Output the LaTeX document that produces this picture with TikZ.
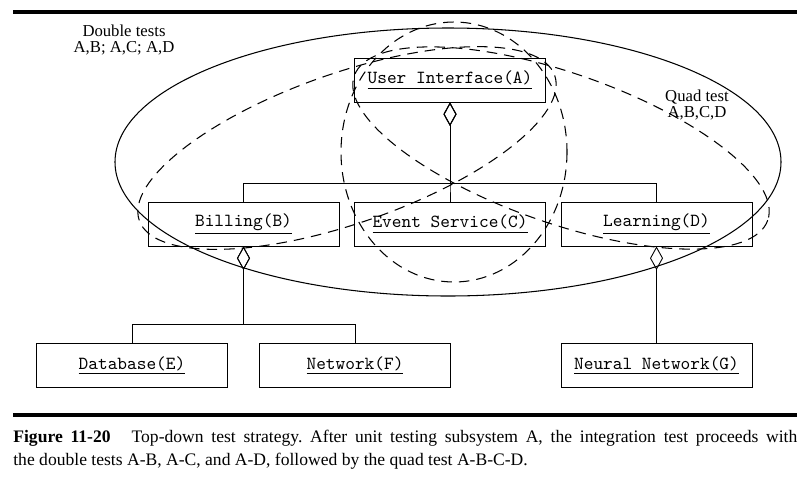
\documentclass[tikz,border=0pt]{standalone}
\usepackage{fontspec}
\setmainfont{Liberation Serif}
\usetikzlibrary{arrows.meta}

\begin{document}
\begin{tikzpicture}[x=0.2mm,y=-0.2mm,grow=down,
  level 1/.style={sibling distance=41.3mm, level distance=28.8mm},
  level 2/.style={sibling distance=44.6mm, level distance=28.3mm},
  subsys/.style={shape=rectangle, draw, line width=0.5pt, minimum width=38.2mm, minimum height=8.8mm, font=\fontsize{10.5}{12}\ttfamily},
  edge from parent/.style={draw, line width=0.5pt, {Diamond[open,length=4.7mm,width=2.6mm]}-},
  edge from parent path={(\tikzparentnode.south) |- ([yshift=3.7mm]\tikzchildnode.north) -- (\tikzchildnode.north)},
  testset/.style={line width=0.6pt, dash pattern=on 6pt off 4pt},
  note/.style={align=center, font=\fontsize{9.5}{9.2}\selectfont}]
  \useasboundingbox (0,0) rectangle (805,478);

  \draw[line width=1.9pt] (13,12) -- (797,12);

  \node[subsys] (a) at (450,80) {\underline{User Interface(A)}}
    child { node[subsys] (b) {\underline{Billing(B)}}
             child { node[subsys] (e) {\underline{Database(E)}} }
             child { node[subsys] (f) {\underline{Network(F)}} } }
    child { node[subsys] (c) {\underline{Event Service(C)}} }
    child { node[subsys] (d) {\underline{Learning(D)}}
             child { node[subsys] (g) {\underline{Neural Network(G)}} } };

  % quad test
  \draw[line width=0.6pt] (448,162) ellipse [x radius=333, y radius=134];
  % double tests
  \draw[testset] (454,152) ellipse [x radius=113, y radius=130];
  \draw[testset, rotate around={19.25:(347,148)}] (347,148) ellipse [x radius=220, y radius=75];
  \draw[testset, rotate around={-19.25:(561,148)}] (561,148) ellipse [x radius=219, y radius=75];

  \node[note] (dbl) at (124,40) {Double tests\\A,B; A,C; A,D};
  \node[note] (quad) at (697,105) {Quad test\\A,B,C,D};

  \draw[line width=1.9pt] (13,415) -- (797,415);
  \node[anchor=north west, text width=156.8mm, align=justify, inner sep=0pt,
        font=\fontsize{10}{13}\selectfont\frenchspacing] (caption) at (13,430)
    {\textbf{Figure 11-20}\hspace{1.2em}Top-down test strategy. After unit testing subsystem A, the integration test proceeds with\linebreak
     the double tests A-B, A-C, and A-D, followed by the quad test A-B-C-D.};
\end{tikzpicture}
\end{document}
